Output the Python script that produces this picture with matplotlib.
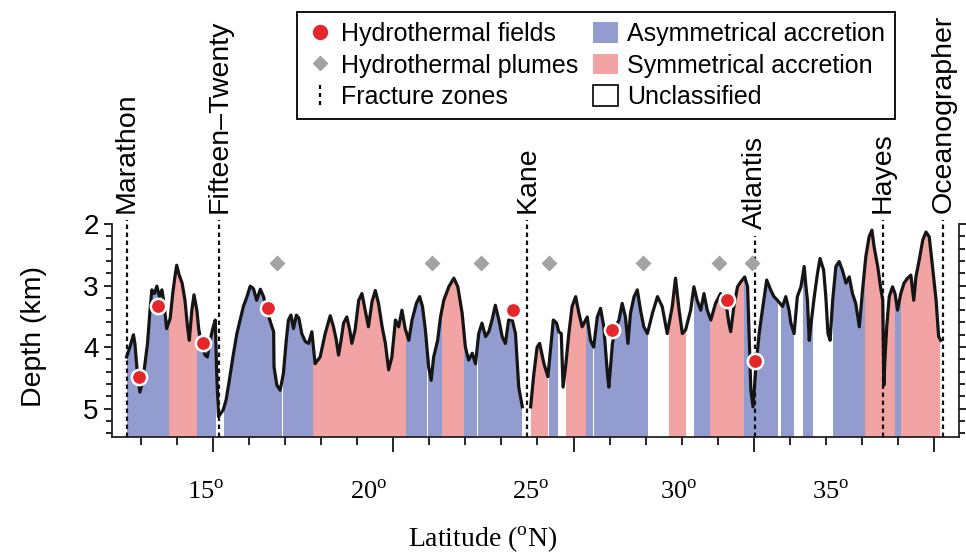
import numpy as np
import matplotlib
matplotlib.use('Agg')
import matplotlib.pyplot as plt
import matplotlib.transforms as mtransforms
from matplotlib.lines import Line2D
from matplotlib.patches import Patch
from matplotlib.path import Path
from matplotlib.ticker import MultipleLocator

plt.rcParams['font.family'] = ['Liberation Sans', 'DejaVu Sans']
plt.rcParams['mathtext.fontset'] = 'custom'
plt.rcParams['mathtext.rm'] = 'Liberation Serif'

# fracture zones (latitude, deg N)
fz_names = ['Marathon', 'Fifteen\u2013Twenty', 'Kane', 'Atlantis', 'Hayes', 'Oceanographer']
fz_lat = [12.60, 15.17, 23.72, 30.03, 33.58, 35.26]

# hydrothermal fields and plumes
field_lat = [12.94, 13.46, 14.72, 16.53, 23.33, 26.08, 29.27, 30.04]
field_depth = [4.49, 3.34, 3.94, 3.37, 3.39, 3.73, 3.23, 4.23]
plume_lat = [16.77, 21.06, 22.44, 24.31, 26.94, 29.03, 29.94]
plume_depth = [2.64, 2.64, 2.64, 2.64, 2.64, 2.64, 2.64]

# accretion mode segments (start, end latitude)
asym_spans = [(12.60, 13.78), (14.56, 15.08), (15.29, 16.92), (16.94, 17.78),
              (20.36, 20.94), (20.97, 21.36), (21.97, 22.33), (22.36, 23.57),
              (24.31, 24.58), (25.36, 25.53), (25.56, 27.06), (28.33, 28.78),
              (29.72, 30.67), (30.75, 31.11), (31.36, 31.64), (32.19, 33.08),
              (33.92, 34.08)]
sym_spans = [(13.78, 14.56), (17.78, 20.36), (21.36, 21.97), (23.82, 24.28),
             (24.78, 25.36), (27.64, 28.11), (28.78, 29.72), (33.08, 33.92),
             (34.08, 35.18)]

# axial depth profile (None = gap at Kane)
profile_lat = [
    12.60, 12.69, 12.79, 12.83, 12.90, 12.97, 13.05, 13.11, 13.18, 13.25,
    13.30, 13.37, 13.44, 13.51, 13.58, 13.64, 13.71, 13.81, 13.88, 13.94,
    13.99, 14.06, 14.14, 14.22, 14.29, 14.34, 14.41, 14.47, 14.55, 14.60,
    14.69, 14.78, 14.84, 14.92, 14.99, 15.06, 15.10, 15.15,
    15.28, 15.36, 15.45, 15.55, 15.66, 15.75, 15.84, 15.94, 16.03, 16.12,
    16.21, 16.31, 16.40, 16.49, 16.60, 16.68, 16.69, 16.77, 16.86, 16.95,
    17.03, 17.09, 17.16, 17.23, 17.31, 17.38, 17.46, 17.56, 17.65, 17.74,
    17.83, 17.97, 18.11, 18.25, 18.34, 18.42, 18.48, 18.55, 18.62, 18.71,
    18.79, 18.85, 18.94, 19.04, 19.13, 19.22, 19.31, 19.41, 19.50, 19.59,
    19.69, 19.78, 19.87, 19.96, 20.06, 20.15, 20.24, 20.33, 20.43, 20.52,
    20.64, 20.73, 20.81, 20.89, 20.98, 21.05, 21.12, 21.23, 21.31, 21.40,
    21.54, 21.68, 21.79, 21.91, 22.00, 22.09, 22.19, 22.28, 22.37, 22.46,
    22.56, 22.65, 22.74, 22.83, 22.93, 23.02, 23.11, 23.20, 23.30, 23.39,
    23.48, 23.58,
    None,
    23.81, 23.90, 23.99, 24.06, 24.18, 24.29, 24.36, 24.44, 24.53, 24.59,
    24.66, 24.71, 24.78, 24.87, 24.96, 25.06, 25.15, 25.24, 25.38, 25.47,
    25.56, 25.66, 25.75, 25.84, 25.94, 25.98, 26.08, 26.17, 26.26, 26.35,
    26.44, 26.51, 26.58, 26.68, 26.77, 26.86, 26.95, 27.05, 27.19, 27.33,
    27.46, 27.60, 27.74, 27.83, 27.93, 28.02, 28.11, 28.25, 28.34, 28.43,
    28.53, 28.62, 28.71, 28.81, 28.94, 29.08, 29.22, 29.31, 29.36, 29.45,
    29.55, 29.64, 29.75, 29.83, 29.87, 29.92, 29.98, 30.06, 30.15, 30.24,
    30.36, 30.47, 30.56, 30.66, 30.80, 30.89, 30.98, 31.03, 31.12, 31.21,
    31.31, 31.40, 31.44, 31.49, 31.54, 31.58, 31.68, 31.77, 31.84, 31.94,
    32.00, 32.06, 32.12, 32.19, 32.28, 32.37, 32.46, 32.56, 32.65, 32.74,
    32.83, 32.93, 33.02, 33.11, 33.20, 33.28, 33.34, 33.44, 33.53, 33.58,
    33.61, 33.64, 33.69, 33.76, 33.85, 33.92, 33.99, 34.08, 34.17, 34.27,
    34.36, 34.44, 34.50, 34.59, 34.69, 34.78, 34.87, 34.96, 35.06, 35.13,
    35.19]
profile_depth = [
    4.16, 4.00, 3.80, 3.94, 4.43, 4.73, 4.54, 4.27, 3.94, 3.40,
    3.07, 3.13, 3.01, 3.18, 3.07, 3.29, 3.70, 3.53, 3.13, 2.86,
    2.67, 2.83, 2.96, 3.24, 3.67, 3.89, 3.40, 3.15, 3.40, 3.70,
    4.00, 4.13, 4.16, 3.89, 3.70, 3.56, 4.43, 5.13,
    5.02, 4.86, 4.54, 4.16, 3.78, 3.56, 3.34, 3.18, 3.01, 3.05,
    3.24, 3.06, 3.18, 3.40, 3.61, 3.75, 4.32, 4.62, 4.70, 4.43,
    3.89, 3.56, 3.48, 3.70, 3.48, 3.53, 3.78, 3.91, 3.94, 3.75,
    4.27, 4.16, 3.78, 3.49, 3.67, 3.89, 4.13, 3.89, 3.61, 3.51,
    3.72, 3.94, 3.72, 3.24, 3.13, 3.40, 3.67, 3.26, 3.08, 3.29,
    3.67, 3.94, 4.37, 4.16, 3.56, 3.67, 3.40, 3.70, 3.89, 3.56,
    3.29, 3.18, 3.34, 3.72, 4.32, 4.54, 4.16, 3.89, 3.51, 3.24,
    3.02, 2.88, 3.02, 3.45, 4.00, 4.21, 4.10, 4.27, 3.78, 3.61,
    3.83, 3.75, 3.56, 3.32, 3.56, 3.83, 3.94, 3.56, 3.56, 3.78,
    4.65, 4.97,
    None,
    4.97, 4.43, 4.00, 3.94, 4.27, 4.48, 4.05, 3.56, 3.61, 3.75,
    3.78, 4.65, 4.32, 3.78, 3.34, 3.18, 3.45, 3.67, 3.51, 3.89,
    4.00, 3.51, 3.37, 3.67, 4.43, 4.65, 3.94, 3.67, 3.56, 3.29,
    3.51, 3.94, 3.45, 3.18, 3.07, 3.40, 3.67, 3.78, 3.45, 3.18,
    3.34, 3.78, 3.34, 2.88, 3.40, 3.78, 3.72, 3.40, 3.02, 3.24,
    3.40, 3.13, 3.40, 3.56, 3.29, 3.13, 3.24, 3.61, 3.75, 3.34,
    3.02, 2.94, 2.86, 3.02, 3.78, 4.70, 4.97, 4.32, 3.78, 3.40,
    2.91, 3.07, 3.18, 3.24, 3.34, 3.18, 3.40, 3.61, 3.78, 3.18,
    3.02, 2.69, 2.96, 3.24, 3.89, 3.67, 3.18, 2.80, 2.56, 2.75,
    3.18, 3.78, 3.89, 3.24, 2.69, 2.61, 2.75, 2.96, 2.86, 3.13,
    3.29, 3.67, 3.07, 2.53, 2.21, 2.10, 2.37, 2.69, 3.07, 3.24,
    4.62, 4.21, 3.67, 3.18, 3.02, 3.13, 3.40, 3.13, 2.96, 2.88,
    2.83, 3.24, 2.86, 2.59, 2.26, 2.13, 2.21, 2.69, 3.24, 3.83,
    3.89]

# x tick labels as printed under the axis
tick_text = ['15', '20', '25', '30', '35']
tick_text_lat = [14.78, 19.31, 23.81, 27.92, 32.14]

blue = '#939CCF'
pink = '#F2A3A3'
red = '#E5262B'
grey = '#A3A3A3'

plat = np.array(profile_lat, dtype=float)
pdep = np.array(profile_depth, dtype=float)

fig = plt.figure(figsize=(9.66, 5.54), dpi=100)
ax = fig.add_axes([0.1159, 0.2112, 0.8768, 0.3845])
ax.set_xlim(12.194, 35.694)
ax.set_ylim(5.46, 2.0)

for a, b in asym_spans:
    ax.axvspan(a, b, color=blue, lw=0, zorder=1)
for a, b in sym_spans:
    ax.axvspan(a, b, color=pink, lw=0, zorder=1)
# blank out everything above the seafloor
ax.fill_between(plat, pdep, 1.0, color='white', lw=0, zorder=2)
ax.plot(plat, pdep, color='#151515', lw=2.3, zorder=3, solid_joinstyle='round')

for name, lat in zip(fz_names, fz_lat):
    ytxt = 0.975 if name == 'Atlantis' else 1.05
    ax.axvline(lat, ymin=0, ymax=ytxt - 0.03, color='#111111', lw=1.6,
               ls=(0, (2, 1.6)), clip_on=False, zorder=4)
    ax.text(lat, ytxt, name, rotation=90, ha='center', va='bottom', fontsize=20.5,
            transform=mtransforms.blended_transform_factory(ax.transData, ax.transAxes))

ax.plot(plume_lat, plume_depth, 'D', ms=8, color=grey, mec='none', zorder=6)
ax.plot(field_lat, field_depth, 'o', ms=11, mfc=red, mec='white', mew=1.8, zorder=7)

# axes styling
ax.spines['top'].set_visible(False)
for s in ['left', 'right', 'bottom']:
    ax.spines[s].set_linewidth(1.3)
    ax.spines[s].set_color('#222222')
ax.xaxis.set_major_locator(MultipleLocator(5))
ax.xaxis.set_minor_locator(MultipleLocator(1))
ax.tick_params(axis='x', which='major', length=11, width=1.2, labelbottom=False)
ax.tick_params(axis='x', which='minor', length=5.5, width=1.2)
ax.set_yticks([2, 3, 4, 5])
ax.yaxis.set_minor_locator(MultipleLocator(0.2))
ax.tick_params(axis='y', which='both', right=True, width=1.2, labelsize=20, pad=4)
ax.tick_params(axis='y', which='major', length=5.5)
ax.tick_params(axis='y', which='minor', length=4)
ax.set_ylabel('Depth (km)', fontsize=20.5)
ax.yaxis.set_label_coords(-0.077, 0.47)

xtrans = mtransforms.blended_transform_factory(ax.transData, ax.transAxes)
for lab, lat in zip(tick_text, tick_text_lat):
    ax.text(lat, -0.26, lab + r'$^{\mathrm{o}}$', transform=xtrans, ha='center',
            va='center', fontsize=19, family='Liberation Serif')
fig.text(0.5, 0.025, r'Latitude ($^{\mathrm{o}}$N)', ha='center', va='center',
         fontsize=20, family='Liberation Serif')

# legend
fz_marker = Path([(0, -1), (0, -0.55), (0, -0.2), (0, 0.2), (0, 0.55), (0, 1)],
                 [Path.MOVETO, Path.LINETO, Path.MOVETO, Path.LINETO, Path.MOVETO, Path.LINETO])
handles = [
    Line2D([], [], ls='none', marker='o', ms=10, mfc=red, mec=red),
    Line2D([], [], ls='none', marker='D', ms=7, mfc=grey, mec=grey),
    Line2D([], [], ls='none', marker=fz_marker, ms=15, mec='black', mew=1.6),
    Patch(fc=blue, ec='none'),
    Patch(fc=pink, ec='none'),
    Patch(fc='white', ec='black', lw=1.2),
]
labels = ['Hydrothermal fields', 'Hydrothermal plumes', 'Fracture zones',
          'Asymmetrical accretion', 'Symmetrical accretion', 'Unclassified']
leg = fig.legend(handles, labels, loc='upper left', bbox_to_anchor=(297 / 966, 1 - 12 / 554),
                 ncol=2, fontsize=18, frameon=True, fancybox=False, edgecolor='black',
                 framealpha=1, borderaxespad=0, borderpad=0.4, labelspacing=0.3,
                 handlelength=1.0, handleheight=0.9, handletextpad=0.35, columnspacing=0.6)
leg.get_frame().set_linewidth(1.3)

fig.savefig('out.png', dpi=100)
